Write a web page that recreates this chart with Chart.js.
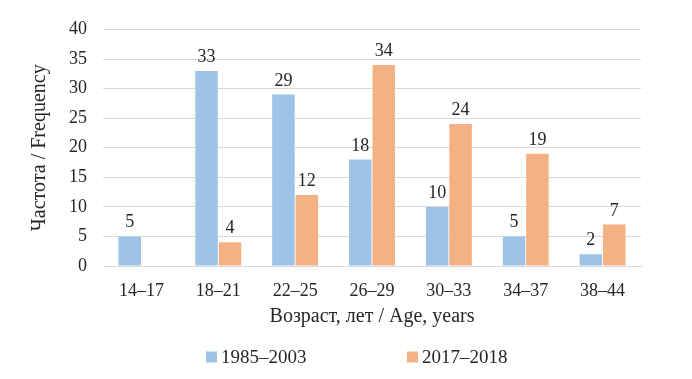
<!DOCTYPE html>
<html>
<head>
<meta charset="utf-8">
<script src="https://cdn.jsdelivr.net/npm/chart.js@4.4.0/dist/chart.umd.min.js"></script>
<style>
  html, body { margin: 0; padding: 0; background: #ffffff; }
  #wrap { width: 692px; height: 379px; }
</style>
</head>
<body>
<div id="wrap"><canvas id="c" width="692" height="379"></canvas></div>
<script>
const categories = ['14–17', '18–21', '22–25', '26–29', '30–33', '34–37', '38–44'];
const series1985 = [5, 33, 29, 18, 10, 5, 2];
const series2017 = [null, 4, 12, 34, 24, 19, 7];
const seriesNames = ['1985–2003', '2017–2018'];
const yTicks = [0, 5, 10, 15, 20, 25, 30, 35, 40];
const xTitle = 'Возраст, лет / Age, years';
const yTitle = 'Частота / Frequency';

const FONT = "'Liberation Serif', 'Times New Roman', serif";
const TEXT = '#262626';
const BLUE = '#9dc3e6';
const ORANGE = '#f4b183';

const valueLabels = {
  id: 'valueLabels',
  afterDatasetsDraw(chart) {
    const ctx = chart.ctx;
    ctx.save();
    ctx.font = '18px ' + FONT;
    ctx.fillStyle = TEXT;
    ctx.textAlign = 'center';
    ctx.textBaseline = 'alphabetic';
    chart.data.datasets.forEach((ds, di) => {
      const meta = chart.getDatasetMeta(di);
      meta.data.forEach((bar, i) => {
        const v = ds.data[i];
        if (v === null || v === undefined) return;
        ctx.fillText(String(v), bar.x, bar.y - 9);
      });
    });
    ctx.restore();
  }
};

const customLegend = {
  id: 'customLegend',
  afterDraw(chart) {
    const ctx = chart.ctx;
    const starts = [206, 407];
    ctx.save();
    ctx.font = '19px ' + FONT;
    ctx.textAlign = 'left';
    ctx.textBaseline = 'alphabetic';
    chart.data.datasets.forEach((ds, di) => {
      const x = starts[di];
      ctx.fillStyle = ds.backgroundColor;
      ctx.fillRect(x, 351.5, 11, 11);
      ctx.fillStyle = TEXT;
      ctx.fillText(ds.label, x + 15, 363);
    });
    ctx.restore();
  }
};

new Chart(document.getElementById('c'), {
  type: 'bar',
  data: {
    labels: categories,
    datasets: [
      { label: seriesNames[0], data: series1985, backgroundColor: BLUE,
        categoryPercentage: 0.61, barPercentage: 0.96 },
      { label: seriesNames[1], data: series2017, backgroundColor: ORANGE,
        categoryPercentage: 0.61, barPercentage: 0.96 }
    ]
  },
  options: {
    responsive: false,
    animation: false,
    devicePixelRatio: 1,
    layout: { padding: { left: 0, right: 51, top: 29.5, bottom: 48 } },
    plugins: {
      legend: { display: false },
      tooltip: { enabled: false }
    },
    scales: {
      x: {
        grid: { display: false, drawTicks: false },
        border: { display: true, color: '#d9d9d9', width: 1 },
        ticks: { font: { family: FONT, size: 18 }, color: TEXT, padding: 14 },
        title: { display: true, text: xTitle, font: { family: FONT, size: 20 },
                 color: TEXT, padding: { top: 2, bottom: 2 } },
        afterFit(s) { s.height = 65; }
      },
      y: {
        min: 0, max: 40,
        afterBuildTicks(s) { s.ticks = yTicks.map(v => ({ value: v })); },
        grid: { color: '#d9d9d9', drawTicks: false, lineWidth: 1 },
        border: { display: false },
        ticks: { font: { family: FONT, size: 18 }, color: TEXT, padding: 16 },
        title: { display: true, text: yTitle, font: { family: FONT, size: 20 },
                 color: TEXT, padding: { top: 28, bottom: 0 } },
        afterFit(s) { s.width = 103; }
      }
    }
  },
  plugins: [valueLabels, customLegend]
});
</script>
</body>
</html>
